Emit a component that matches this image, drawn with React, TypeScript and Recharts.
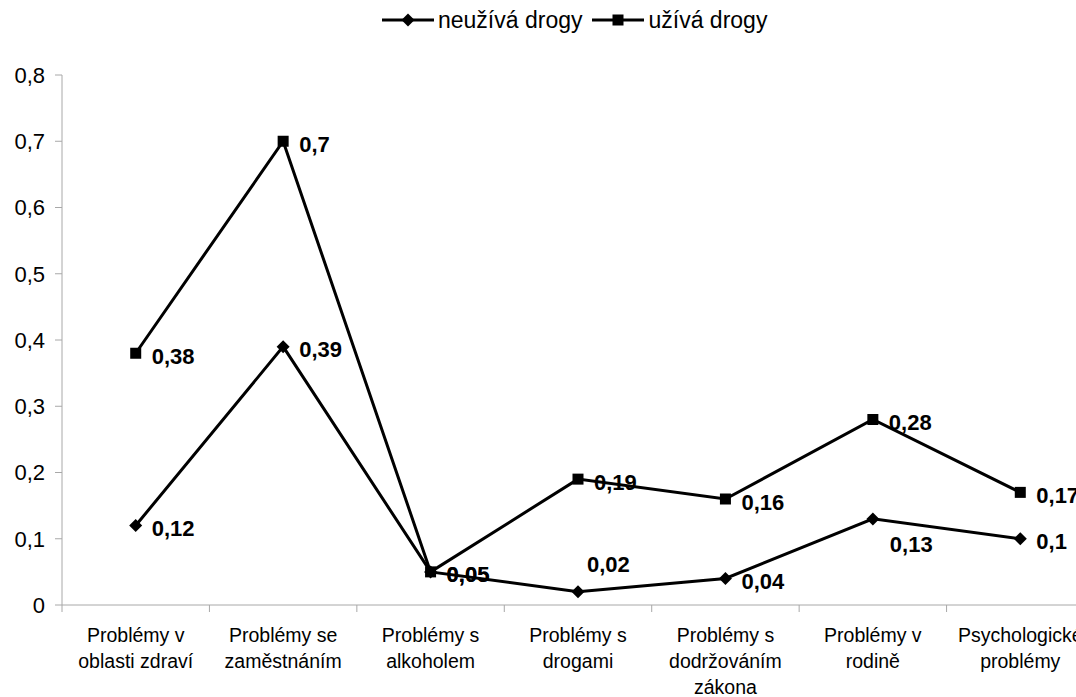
import React from "react";
import { LineChart, Line, XAxis, YAxis, LabelList } from "recharts";

const FONT = '"Liberation Sans", Arial, sans-serif';
const AXIS = "#a8a8a8";
const INK = "#000";

const categories = [
  "Problémy v\noblasti zdraví",
  "Problémy se\nzaměstnáním",
  "Problémy s\nalkoholem",
  "Problémy s\ndrogami",
  "Problémy s\ndodržováním\nzákona",
  "Problémy v\nrodině",
  "Psychologické\nproblémy",
];
const neuziva = [0.12, 0.39, 0.05, 0.02, 0.04, 0.13, 0.1];
const uziva = [0.38, 0.7, 0.05, 0.19, 0.16, 0.28, 0.17];
const yTicks = [0, 0.1, 0.2, 0.3, 0.4, 0.5, 0.6, 0.7, 0.8];

// where each value label sits relative to its marker
const neuzivaPlace = ["right", "right", "right", "above", "right", "below", "right"];
const uzivaPlace = ["right", "right", "right", "right", "right", "right", "right"];

const data = categories.map((name, i) => ({
  name,
  neuziva: neuziva[i],
  uziva: uziva[i],
}));

const fmt = (v: number) => (v === 0 ? "0" : String(v).replace(".", ","));

function Diamond({ cx, cy }: any) {
  if (cx == null || cy == null) return null;
  const r = 6.5;
  return (
    <path
      d={`M${cx},${cy - r}L${cx + r},${cy}L${cx},${cy + r}L${cx - r},${cy}Z`}
      fill={INK}
    />
  );
}

function Square({ cx, cy }: any) {
  if (cx == null || cy == null) return null;
  const r = 5.5;
  return <rect x={cx - r} y={cy - r} width={r * 2} height={r * 2} fill={INK} />;
}

function makeLabel(places: string[]) {
  return function ValueLabel(props: any) {
    const { x, y, value, index } = props;
    const place = places[index] ?? "right";
    let dx = 16;
    let dy = 3;
    if (place === "above") {
      dx = 9;
      dy = -27;
    } else if (place === "below") {
      dx = 17;
      dy = 26;
    }
    return (
      <text
        x={x + dx}
        y={y + dy}
        dominantBaseline="central"
        textAnchor="start"
        fontFamily={FONT}
        fontSize={22}
        fontWeight="bold"
        fill={INK}
      >
        {fmt(value)}
      </text>
    );
  };
}

function CategoryTick({ x, y, payload }: any) {
  const lines = String(payload.value).split("\n");
  const half = payload.offset ?? 0;
  return (
    <g>
      <line x1={x - half} x2={x - half} y1={y} y2={y + 7} stroke={AXIS} />
      {lines.map((ln, i) => (
        <text
          key={i}
          x={x}
          y={y + 37 + i * 26}
          textAnchor="middle"
          fontFamily={FONT}
          fontSize={19.5}
          fill={INK}
        >
          {ln}
        </text>
      ))}
    </g>
  );
}

function LegendItem({ label, square }: { label: string; square?: boolean }) {
  return (
    <span style={{ display: "inline-flex", alignItems: "center", marginRight: 10 }}>
      <svg width={52} height={16} style={{ marginRight: 4 }}>
        <line x1={0} x2={52} y1={8} y2={8} stroke={INK} strokeWidth={3} />
        {square ? <Square cx={26} cy={8} /> : <Diamond cx={26} cy={8} />}
      </svg>
      <span>{label}</span>
    </span>
  );
}

export default function App() {
  return (
    <div
      style={{
        position: "fixed",
        left: 0,
        top: 0,
        width: 1076,
        height: 697,
        overflow: "hidden",
        background: "#fff",
        fontFamily: FONT,
      }}
    >
      <div
        style={{
          position: "absolute",
          left: 382,
          top: 6,
          fontSize: 23,
          lineHeight: "28px",
          color: INK,
          whiteSpace: "nowrap",
          display: "flex",
        }}
      >
        <LegendItem label="neužívá drogy" />
        <LegendItem label="užívá drogy" square />
      </div>
      <LineChart
        width={1100}
        height={697}
        data={data}
        margin={{ top: 75, right: 6, bottom: 0, left: 0 }}
      >
        <XAxis
          dataKey="name"
          scale="band"
          height={92}
          interval={0}
          tickLine={false}
          tickSize={0}
          tickMargin={0}
          axisLine={{ stroke: AXIS }}
          tick={<CategoryTick />}
        />
        <YAxis
          width={62}
          domain={[0, 0.8]}
          ticks={yTicks}
          tickFormatter={fmt}
          tickSize={7}
          tickMargin={10}
          axisLine={{ stroke: AXIS }}
          tickLine={{ stroke: AXIS }}
          tick={{ fill: INK, fontSize: 22, fontFamily: FONT }}
        />
        <Line
          dataKey="neuziva"
          stroke={INK}
          strokeWidth={3}
          dot={<Diamond />}
          activeDot={false}
          isAnimationActive={false}
        >
          <LabelList dataKey="neuziva" content={makeLabel(neuzivaPlace)} />
        </Line>
        <Line
          dataKey="uziva"
          stroke={INK}
          strokeWidth={3}
          dot={<Square />}
          activeDot={false}
          isAnimationActive={false}
        >
          <LabelList dataKey="uziva" content={makeLabel(uzivaPlace)} />
        </Line>
      </LineChart>
    </div>
  );
}
